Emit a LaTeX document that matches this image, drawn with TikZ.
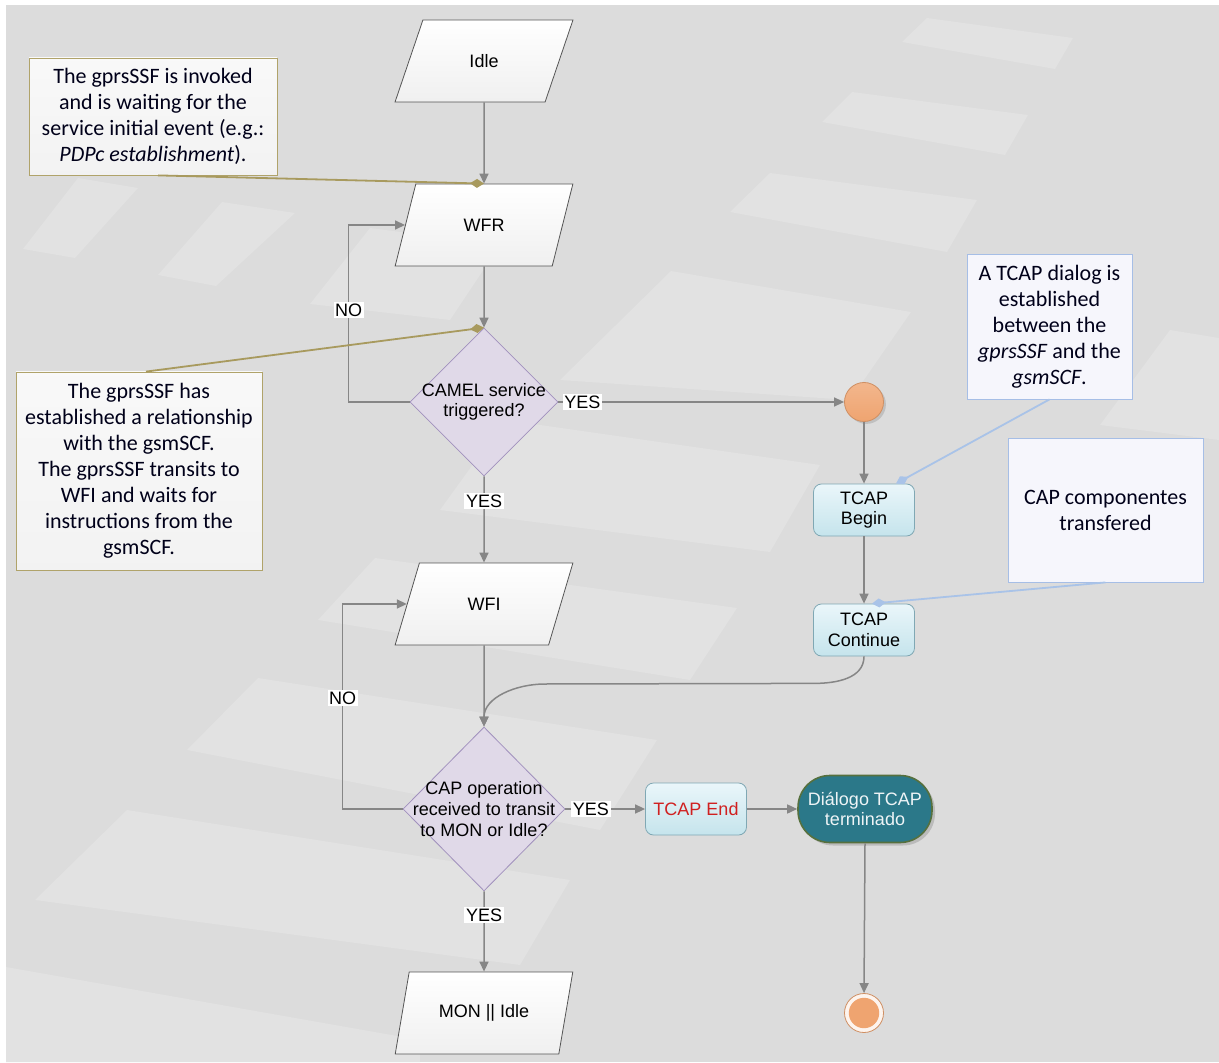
\documentclass[tikz,border=0pt]{standalone}
\usepackage{fontspec}
\setmainfont{Liberation Sans}
\newfontfamily\notefont{Carlito}
\usetikzlibrary{shapes.geometric,arrows.meta,shadows}

\definecolor{bggray}{HTML}{DCDCDC}
\definecolor{bgtile}{HTML}{E2E2E2}
\definecolor{linegray}{HTML}{868686}
\definecolor{statebd}{HTML}{555555}
\definecolor{decfill}{HTML}{E0D9E8}
\definecolor{decbd}{HTML}{A191BD}
\definecolor{tcaptop}{HTML}{EAF6FA}
\definecolor{tcapbot}{HTML}{C5E4EC}
\definecolor{tcapbd}{HTML}{80A8B4}
\definecolor{tcapred}{HTML}{D02020}
\definecolor{finalfill}{HTML}{2B7889}
\definecolor{finalbd}{HTML}{56703E}
\definecolor{startfill}{HTML}{EFA470}
\definecolor{startbd}{HTML}{CF8F63}
\definecolor{notebd}{HTML}{B0A36A}
\definecolor{notelinkc}{HTML}{A89A5E}
\definecolor{bluefill}{HTML}{F6F6FC}
\definecolor{bluebd}{HTML}{A6BEE6}
\definecolor{bluelinkc}{HTML}{A9C3E8}

\newcommand\lbsize{\fontsize{9}{10.3}\selectfont}
\newcommand\ntsize{\fontsize{11}{13}\selectfont}

\tikzset{
  flow/.style={draw=linegray, line width=0.75pt, -{Triangle[length=5pt,width=4.5pt]}},
  lbl/.style={fill=white, inner sep=0.8pt, font=\lbsize},
  state/.style={trapezium, trapezium left angle=63.4, trapezium right angle=116.6,
    trapezium stretches=true, minimum width=89pt, minimum height=41pt, inner sep=0pt,
    draw=statebd, top color=white, bottom color=gray!12, font=\lbsize},
  decision/.style={diamond, draw=decbd, fill=decfill, inner sep=0pt},
  tcapbox/.style={rectangle, rounded corners=4pt, draw=tcapbd, top color=tcaptop,
    bottom color=tcapbot, minimum width=50.5pt, minimum height=26pt, inner sep=1pt,
    align=center, font=\lbsize},
  finalbox/.style={rectangle, rounded corners=16pt, draw=finalbd, line width=0.8pt,
    fill=finalfill, text=white!92!finalfill, minimum width=67pt, minimum height=33.5pt,
    inner sep=1pt, align=center, font=\lbsize,
    drop shadow={opacity=0.35, shadow xshift=1.5pt, shadow yshift=-1.5pt}},
  startc/.style={circle, minimum size=19.5pt, inner sep=0pt, draw=startbd,
    top color=startfill!80!white, bottom color=startfill,
    drop shadow={opacity=0.3, shadow xshift=1.2pt, shadow yshift=-1.2pt}},
  endc/.style={circle, minimum size=19.5pt, inner sep=0pt, draw=startbd, fill=startfill!12,
    path picture={\fill[startfill] (path picture bounding box.center) circle (7.6pt);}},
  note/.style={rectangle, draw=notebd, top color=gray!5, bottom color=gray!10,
    inner sep=0pt, align=center, font=\notefont\ntsize, text=black!90!blue},
  bluenote/.style={rectangle, draw=bluebd, fill=bluefill, inner sep=0pt, align=center,
    font=\notefont\ntsize, text=black!90!blue},
  notelink/.style={draw=notelinkc, line width=0.9pt, -{Diamond[length=7pt,width=4.5pt]}},
  bluelink/.style={draw=bluelinkc, line width=0.9pt, -{Diamond[length=7pt,width=4.5pt]}},
}

\begin{document}
\begin{tikzpicture}[x=0.5pt, y=-0.5pt]
    \useasboundingbox (0,0) rectangle (1219,1063);
    % backdrop
    \fill[white] (0,0) rectangle (1219,1063);
    \fill[bggray] (6,5) rectangle (1219,1062);
    \fill[bgtile] (902,42) -- (927,18) -- (1073,38) -- (1055,69) -- cycle;
    \fill[bgtile] (822,122) -- (852,92) -- (1028,115) -- (1005,155) -- cycle;
    \fill[bgtile] (730,212) -- (770,173) -- (977,200) -- (947,252) -- cycle;
    \fill[bgtile] (23,249) -- (78,178) -- (138,188) -- (75,258) -- cycle;
    \fill[bgtile] (158,275) -- (222,202) -- (295,213) -- (216,286) -- cycle;
    \fill[bgtile] (310,304) -- (370,228) -- (500,245) -- (450,320) -- cycle;
    \fill[bgtile] (560,380) -- (671,271) -- (911,312) -- (850,400) -- cycle;
    \fill[bgtile] (1100,425) -- (1170,330) -- (1219,338) -- (1219,440) -- cycle;
    \fill[bgtile] (440,510) -- (505,420) -- (820,465) -- (770,552) -- cycle;
    \fill[bgtile] (318,620) -- (375,558) -- (737,608) -- (690,680) -- cycle;
    \fill[bgtile] (187,750) -- (258,678) -- (657,740) -- (600,830) -- cycle;
    \fill[bgtile] (35,900) -- (127,810) -- (570,880) -- (520,965) -- cycle;
    \fill[bgtile] (6,967) -- (420,1040) -- (420,1062) -- (6,1062) -- cycle;

    % main column
    \node[state] (idle) at (484,61) {Idle};
    \node[state] (wfr) at (484,225) {WFR};
    \node[decision, minimum width=74pt, minimum height=74pt,
      label={[align=center, font=\lbsize]center:CAMEL service\\triggered?}] (camel) at (484,402) {};
    \node[state] (wfi) at (484,604) {WFI};
    \node[decision, minimum width=81pt, minimum height=82pt,
      label={[align=center, font=\lbsize]center:CAP operation\\received to transit\\to MON or Idle?}] (capop) at (484,809) {};
    \node[state] (monidle) at (484,1013) {MON || Idle};

    % TCAP side
    \node[startc] (start) at (864,402) {};
    \node[tcapbox] (tcapbegin) at (864,510) {TCAP\\Begin};
    \node[tcapbox] (tcapcont) at (864,630) {TCAP\\Continue};
    \node[tcapbox, text=tcapred] (tcapend) at (696,809) {TCAP End};
    \node[finalbox] (dialogo) at (865,809) {Diálogo TCAP\\terminado};
    \node[endc] (endc) at (864,1013) {};

    % notes
    \node[note, minimum width=124pt, minimum height=58.5pt] (invoked) at (153,116.5)
      {The gprsSSF is invoked\\and is waiting for the\\service initial event (e.g.:\\\textit{PDPc establishment}).};
    \node[note, minimum width=123pt, minimum height=99pt] (relation) at (139,471)
      {The gprsSSF has\\established a relationship\\with the gsmSCF.\\The gprsSSF transits to\\WFI and waits for\\instructions from the\\gsmSCF.};
    \node[bluenote, minimum width=82.5pt, minimum height=72.5pt] (dialog) at (1049.5,326.5)
      {A TCAP dialog is\\established\\between the\\\textit{gprsSSF} and the\\\textit{gsmSCF}.};
    \node[bluenote, minimum width=97.5pt, minimum height=72pt] (capcomp) at (1105.5,510)
      {CAP componentes\\transfered};

    % flow
    \draw[flow] (idle.south) -- (wfr.north);
    \draw[flow] (wfr.south) -- (camel.north);
    \draw[flow] (camel.west) -- ++(-61,0) |- (wfr.west) node[lbl, pos=0.26] {NO};
    \draw[flow] (camel.east) -- (start.west) node[lbl, pos=0.084] {YES};
    \draw[flow] (camel.south) -- (wfi.north) node[lbl, pos=0.29] {YES};
    \draw[flow] (start.south) -- (tcapbegin.north);
    \draw[flow] (tcapbegin.south) -- (tcapcont.north);
    \coordinate (merge) at (545,684);
    \draw[flow] (tcapcont.south) to[out=-90,in=0] ++(-50,27) -- (merge) to[out=180,in=90] (capop.north);
    \draw[flow] (wfi.south) -- (capop.north);
    \draw[flow] (capop.west) -- ++(-60,0) |- (wfi.west) node[lbl, pos=0.27] {NO};
    \draw[flow] (capop.east) -- (tcapend.west) node[lbl, pos=0.32] {YES};
    \draw[flow] (tcapend.east) -- (dialogo.west);
    \draw[flow] (dialogo.south) -- (endc.north);
    \draw[flow] (capop.south) -- (monidle.north) node[lbl, pos=0.3] {YES};

    % note links
    \draw[notelink] ([xshift=2.5pt]invoked.south) -- (wfr.north);
    \draw[notelink] ([xshift=3.5pt]relation.north) -- (camel.north);
    \draw[bluelink] (dialog.south) -- ([xshift=16pt]tcapbegin.north);
    \draw[bluelink] (capcomp.south) -- ([xshift=4pt]tcapcont.north);
\end{tikzpicture}
\end{document}
